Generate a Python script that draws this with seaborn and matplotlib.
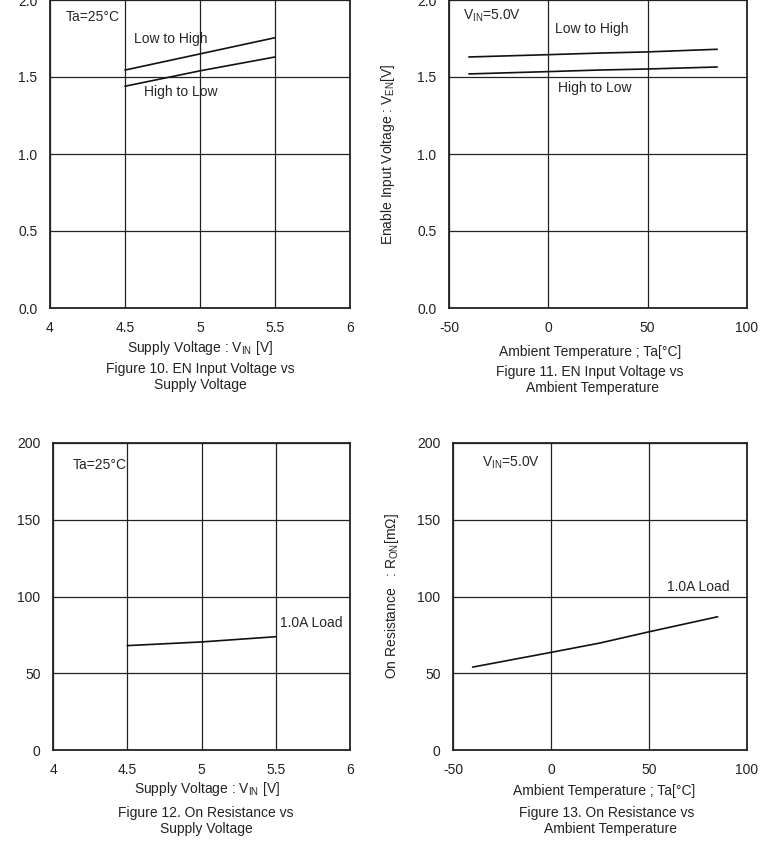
import matplotlib
matplotlib.use("Agg")
import matplotlib.pyplot as plt
import seaborn as sns
import pandas as pd

sns.set_style("white")
plt.rcParams["font.family"] = ["Liberation Sans", "DejaVu Sans"]
plt.rcParams["font.size"] = 10
plt.rcParams["mathtext.default"] = "regular"
plt.rcParams["axes.unicode_minus"] = False

#============== Data ==============
vin = [4.5, 5.0, 5.5]
ven_l2h_vin = [1.545, 1.65, 1.755]
ven_h2l_vin = [1.44, 1.54, 1.63]

temp = [-40, 0, 25, 50, 85]
ven_l2h_temp = [1.63, 1.645, 1.655, 1.663, 1.68]
ven_h2l_temp = [1.52, 1.535, 1.545, 1.552, 1.565]

ron_vin = [68.0, 70.4, 73.8]
ron_temp = [54.0, 63.6, 69.7, 77.0, 86.8]

vin_ticks = [4, 4.5, 5, 5.5, 6]
vin_ticklabels = ["4", "4.5", "5", "5.5", "6"]
temp_ticks = [-50, 0, 50, 100]
ven_ticks = [0.0, 0.5, 1.0, 1.5, 2.0]
ron_ticks = [0, 50, 100, 150, 200]

ven_label = "Enable Input Voltage : V$_{EN}$[V]"
ron_label = "On Resistance   : R$_{ON}$[m\u03a9]"
vin_xlabel = "Supply Voltage : V$_{IN}$ [V]"
temp_xlabel = "Ambient Temperature ; Ta[\u00b0C]"

fig = plt.figure(figsize=(7.64, 8.49), dpi=100)
W, H = 764, 849


def make_ax(left, top, right, bottom):
    return fig.add_axes([left / W, 1 - bottom / H, (right - left) / W, (bottom - top) / H])


def style(ax, xlim, xticks, ylim, yticks, yfmt, ylabel):
    ax.set_xlim(*xlim)
    ax.set_ylim(*ylim)
    ax.set_xticks(xticks)
    ax.set_yticks(yticks)
    ax.set_yticklabels([yfmt.format(v) for v in yticks])
    ax.grid(True, color="#222222", linewidth=0.9)
    for s in ax.spines.values():
        s.set_color("#222222")
        s.set_linewidth(1.3)
    ax.tick_params(length=0, pad=9, labelsize=10, colors="#222222")
    ax.set_ylabel(ylabel, fontsize=10, color="#222222")
    ax.yaxis.set_label_coords(-52 / ((ax.get_position().width) * W), 0.5)
    ax.set_axisbelow(True)
    ax.set_xlabel("")


def curve(ax, x, y):
    sns.lineplot(x=x, y=y, ax=ax, color="#111111", linewidth=1.2)


# Figure 10
ax1 = make_ax(50, 0, 350, 308)
curve(ax1, vin, ven_l2h_vin)
curve(ax1, vin, ven_h2l_vin)
style(ax1, (4, 6), vin_ticks, (0, 2.0), ven_ticks, "{:.1f}", ven_label)
ax1.set_xticklabels(vin_ticklabels)
ax1.text(4.107, 1.89, "Ta=25\u00b0C", va="center")
ax1.text(4.56, 1.745, "Low to High", va="center")
ax1.text(4.63, 1.40, "High to Low", va="center")

# Figure 11
ax2 = make_ax(449, 0, 747, 308)
curve(ax2, temp, ven_l2h_temp)
curve(ax2, temp, ven_h2l_temp)
style(ax2, (-50, 100), temp_ticks, (0, 2.0), ven_ticks, "{:.1f}", ven_label)
ax2.text(-43, 1.90, "V$_{IN}$=5.0V", va="center")
ax2.text(3.5, 1.81, "Low to High", va="center")
ax2.text(5, 1.43, "High to Low", va="center")

# Figure 12
ax3 = make_ax(53, 443, 350, 750)
curve(ax3, vin, ron_vin)
style(ax3, (4, 6), vin_ticks, (0, 200), ron_ticks, "{:d}", ron_label)
ax3.set_xticklabels(vin_ticklabels)
ax3.text(4.135, 185.7, "Ta=25\u00b0C", va="center")
ax3.text(5.53, 82.7, "1.0A Load", va="center")

# Figure 13
ax4 = make_ax(453, 443, 747, 750)
curve(ax4, temp, ron_temp)
style(ax4, (-50, 100), temp_ticks, (0, 200), ron_ticks, "{:d}", ron_label)
ax4.text(-35.4, 187, "V$_{IN}$=5.0V", va="center")
ax4.text(59, 106, "1.0A Load", va="center")


# axis titles and captions placed in figure pixels
def ftext(x, y, s):
    fig.text(x / W, 1 - y / H, s, ha="center", va="center", fontsize=10, color="#222222")


ftext(200, 348, vin_xlabel)
ftext(200, 369, "Figure 10. EN Input Voltage vs")
ftext(200, 385, "Supply Voltage")
ftext(590, 352, temp_xlabel)
ftext(590, 372, "Figure 11. EN Input Voltage vs")
ftext(592, 388, "Ambient Temperature")
ftext(207, 789, vin_xlabel)
ftext(206, 813, "Figure 12. On Resistance vs")
ftext(206, 829, "Supply Voltage")
ftext(604, 791, temp_xlabel)
ftext(607, 813, "Figure 13. On Resistance vs")
ftext(610, 829, "Ambient Temperature")

fig.savefig("out.png", dpi=100)
